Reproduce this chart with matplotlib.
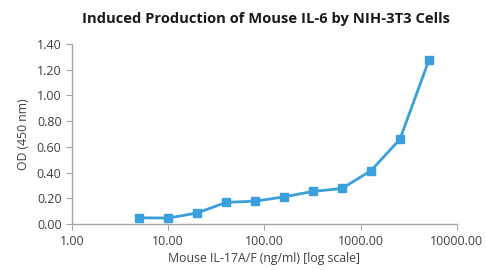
import numpy as np
import matplotlib
matplotlib.use("Agg")
import matplotlib.pyplot as plt

plt.rcParams['font.family'] = ['Open Sans', 'DejaVu Sans']

# ---- Data ----
conc = [5, 10, 20, 40, 80, 160, 320, 640, 1280, 2560, 5120]
od = [0.049, 0.047, 0.086, 0.169, 0.178, 0.212, 0.254, 0.277, 0.415, 0.659, 1.273]
yticks = [0.0, 0.2, 0.4, 0.6, 0.8, 1.0, 1.2, 1.4]
xticks = [1, 10, 100, 1000, 10000]

blue = '#3a9fdb'
grey = '#a6a6a6'
text_col = '#404040'

fig = plt.figure(figsize=(4.86, 2.70), dpi=100)
ax = fig.add_axes([0.148, 0.170, 0.792, 0.667])

ax.plot(conc, od, color=blue, lw=2, marker='s', ms=6, mfc=blue, mec=blue)

ax.set_xscale('log')
ax.set_xlim(1, 10000)
ax.set_ylim(0, 1.4)
ax.set_xticks(xticks)
ax.set_xticklabels([f"{t:.2f}" for t in xticks])
ax.minorticks_off()
ax.set_yticks(yticks)
ax.set_yticklabels([f"{t:.2f}" for t in yticks])

for s in ['top', 'right']:
    ax.spines[s].set_visible(False)
for s in ['left', 'bottom']:
    ax.spines[s].set_color(grey)
    ax.spines[s].set_linewidth(1)
ax.tick_params(colors=grey, labelcolor=text_col, labelsize=9, length=4)

ax.set_xlabel("Mouse IL-17A/F (ng/ml) [log scale]", fontsize=8.8, color=text_col, labelpad=3)
ax.set_ylabel("OD (450 nm)", fontsize=8.8, color=text_col, labelpad=5)
fig.suptitle("Induced Production of Mouse IL-6 by NIH-3T3 Cells", x=0.547, y=0.955,
             fontsize=10.6, fontweight='bold', color='#1a1a1a')

fig.savefig("out.png", dpi=100, facecolor='white')
